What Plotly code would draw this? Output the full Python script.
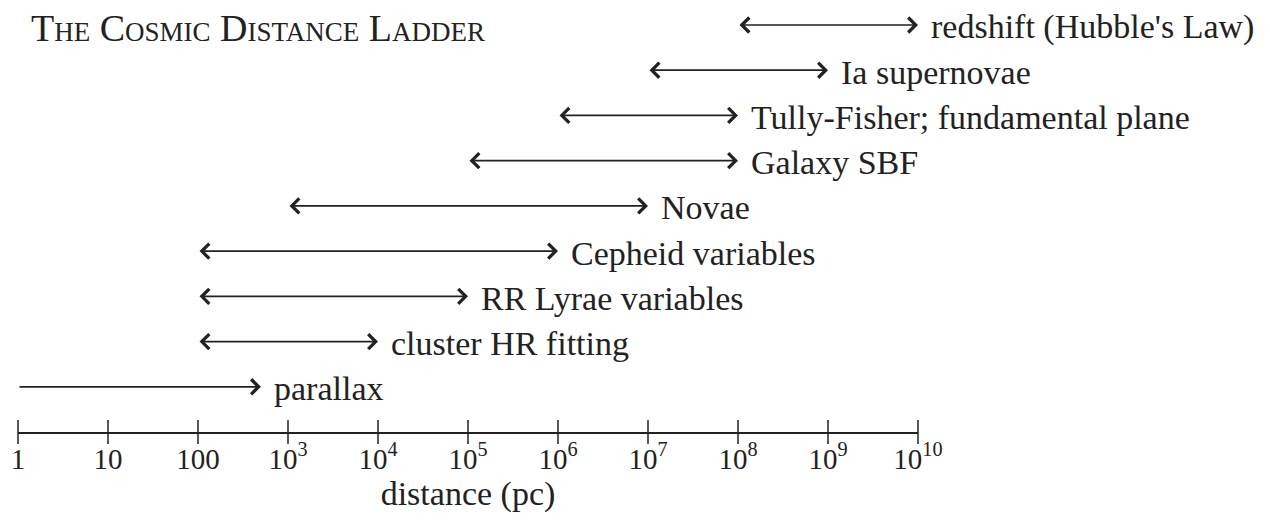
import numpy as np
import plotly.graph_objects as go

# ---- data ----
methods = ["redshift (Hubble's Law)", "Ia supernovae", "Tully-Fisher; fundamental plane",
           "Galaxy SBF", "Novae", "Cepheid variables", "RR Lyrae variables",
           "cluster HR fitting", "parallax"]
dist_min = [1e8, 1e7, 1e6, 1e5, 1e3, 1e2, 1e2, 1e2, 1]
dist_max = [1e10, 1e9, 1e8, 1e8, 1e7, 1e6, 1e5, 1e4, 500]
two_sided = [True, True, True, True, True, True, True, True, False]
tick_vals = [1, 10, 100, 1e3, 1e4, 1e5, 1e6, 1e7, 1e8, 1e9, 1e10]
tick_text = ["1", "10", "100", "10<sup>3</sup>", "10<sup>4</sup>", "10<sup>5</sup>",
             "10<sup>6</sup>", "10<sup>7</sup>", "10<sup>8</sup>", "10<sup>9</sup>",
             "10<sup>10</sup>"]
title_text = "The Cosmic Distance Ladder"
axis_title = "distance (pc)"

FONT = "Liberation Serif"
INK = "#222222"
FS = 34

n = len(methods)
rows = [n - i for i in range(n)]  # top row highest

fig = go.Figure()

# crossing tick marks on the axis line
fig.add_trace(go.Scatter(
    x=tick_vals, y=[0] * len(tick_vals), mode="markers",
    marker=dict(symbol="line-ns", size=17, line=dict(width=1.5, color=INK)),
    cliponaxis=False, hoverinfo="skip", showlegend=False))

annotations = []
for m, lo, hi, ts, r in zip(methods, dist_min, dist_max, two_sided, rows):
    annotations.append(dict(
        x=np.log10(hi), y=r, ax=np.log10(lo), ay=r, xref="x", yref="y",
        axref="x", ayref="y", text="", showarrow=True,
        arrowhead=4, startarrowhead=4, arrowside="end+start" if ts else "end",
        arrowsize=1.7, startarrowsize=1.7, arrowwidth=1.7, arrowcolor=INK,
        standoff=0, startstandoff=0))
    annotations.append(dict(
        x=np.log10(hi), y=r, xref="x", yref="y", text=m, showarrow=False,
        xanchor="left", yanchor="middle", xshift=11, yshift=-2,
        font=dict(family=FONT, size=FS, color=INK)))

annotations.append(dict(
    x=(29 - 18) / 900, y=n, xref="paper", yref="y", text=title_text,
    showarrow=False, xanchor="left", yanchor="middle", yshift=-3,
    font=dict(family=FONT, size=38, color=INK, variant="small-caps")))

# page body has an 8px margin, so the figure is sized to the visible window
fig.update_layout(
    width=1262, height=513,
    margin=dict(l=10, r=352, t=17, b=89),
    paper_bgcolor="white", plot_bgcolor="white",
    showlegend=False,
    annotations=annotations,
    font=dict(family=FONT, size=FS, color=INK),
    xaxis=dict(type="log", range=[0, 10], tickmode="array", tickvals=tick_vals,
               ticktext=tick_text, showgrid=False, zeroline=False, showline=True,
               linecolor=INK, linewidth=1.7, ticks="", automargin=False,
               tickfont=dict(family=FONT, size=29, color=INK),
               title=dict(text=axis_title, font=dict(family=FONT, size=FS, color=INK),
                          standoff=6),
               fixedrange=True),
    yaxis=dict(range=[0, n], visible=False, fixedrange=True, automargin=False),
)

fig.write_html("out.html")
